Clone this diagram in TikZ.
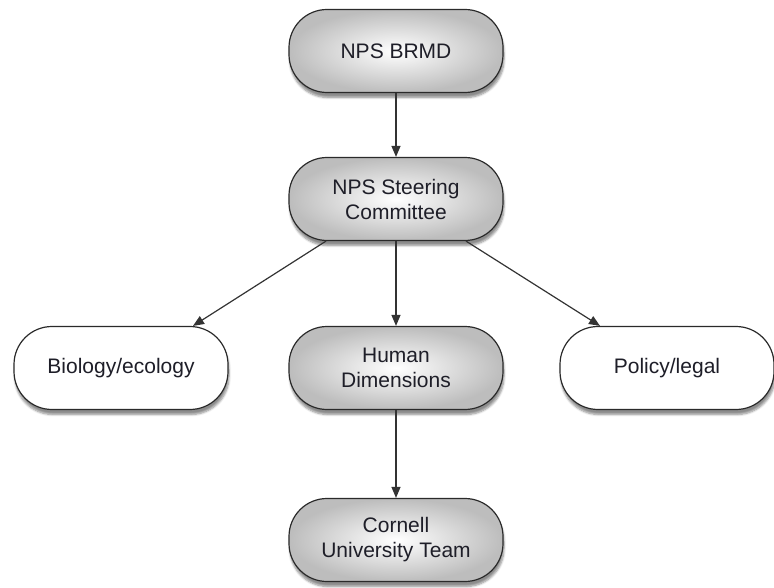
\documentclass[tikz,border=0pt]{standalone}
\usepackage{fontspec}
\setmainfont{Liberation Sans}
\usetikzlibrary{shadows.blur,arrows.meta,calc}
\definecolor{edge}{HTML}{2A2A2A}
\definecolor{txt}{HTML}{1E1E28}
\begin{document}
\begin{tikzpicture}[x=1pt,y=-1pt,
  box/.style={draw=edge,line width=1.2pt,rounded corners=38pt,
    minimum width=214pt,minimum height=83pt,align=center,
    font=\fontsize{21}{25}\selectfont,text=txt,
    blur shadow={shadow xshift=1pt,shadow yshift=-5pt,shadow blur steps=6,shadow opacity=45}},
  graybox/.style={box,inner color=white,outer color=black!26},
  whitebox/.style={box,fill=white},
  arr/.style={draw=black!80,line width=1.2pt,-{Triangle[length=11pt,width=9pt]}}]
\useasboundingbox (0,0) rectangle (774,588);
\node[graybox] (brmd) at (396,51) {NPS BRMD};
\node[graybox] (steer) at (396,199) {NPS Steering\\Committee};
\node[whitebox] (bio) at (121,368) {Biology/ecology};
\node[graybox] (human) at (396,368) {Human\\Dimensions};
\node[whitebox] (policy) at (667,368) {Policy/legal};
\node[graybox] (cornell) at (396,540) {Cornell\\University Team};
\coordinate (sl) at ($(steer.south)+(-70,0)$);
\coordinate (sr) at ($(steer.south)+(70,0)$);
\coordinate (bt) at ($(bio.north)+(72,0)$);
\coordinate (pt) at ($(policy.north)+(-67,0)$);
\draw[arr] (brmd) -- (steer);
\draw[arr] (steer) -- (human);
\draw[arr] (human) -- (cornell);
\draw[arr] (sl) -- (bt);
\draw[arr] (sr) -- (pt);
\end{tikzpicture}
\end{document}
